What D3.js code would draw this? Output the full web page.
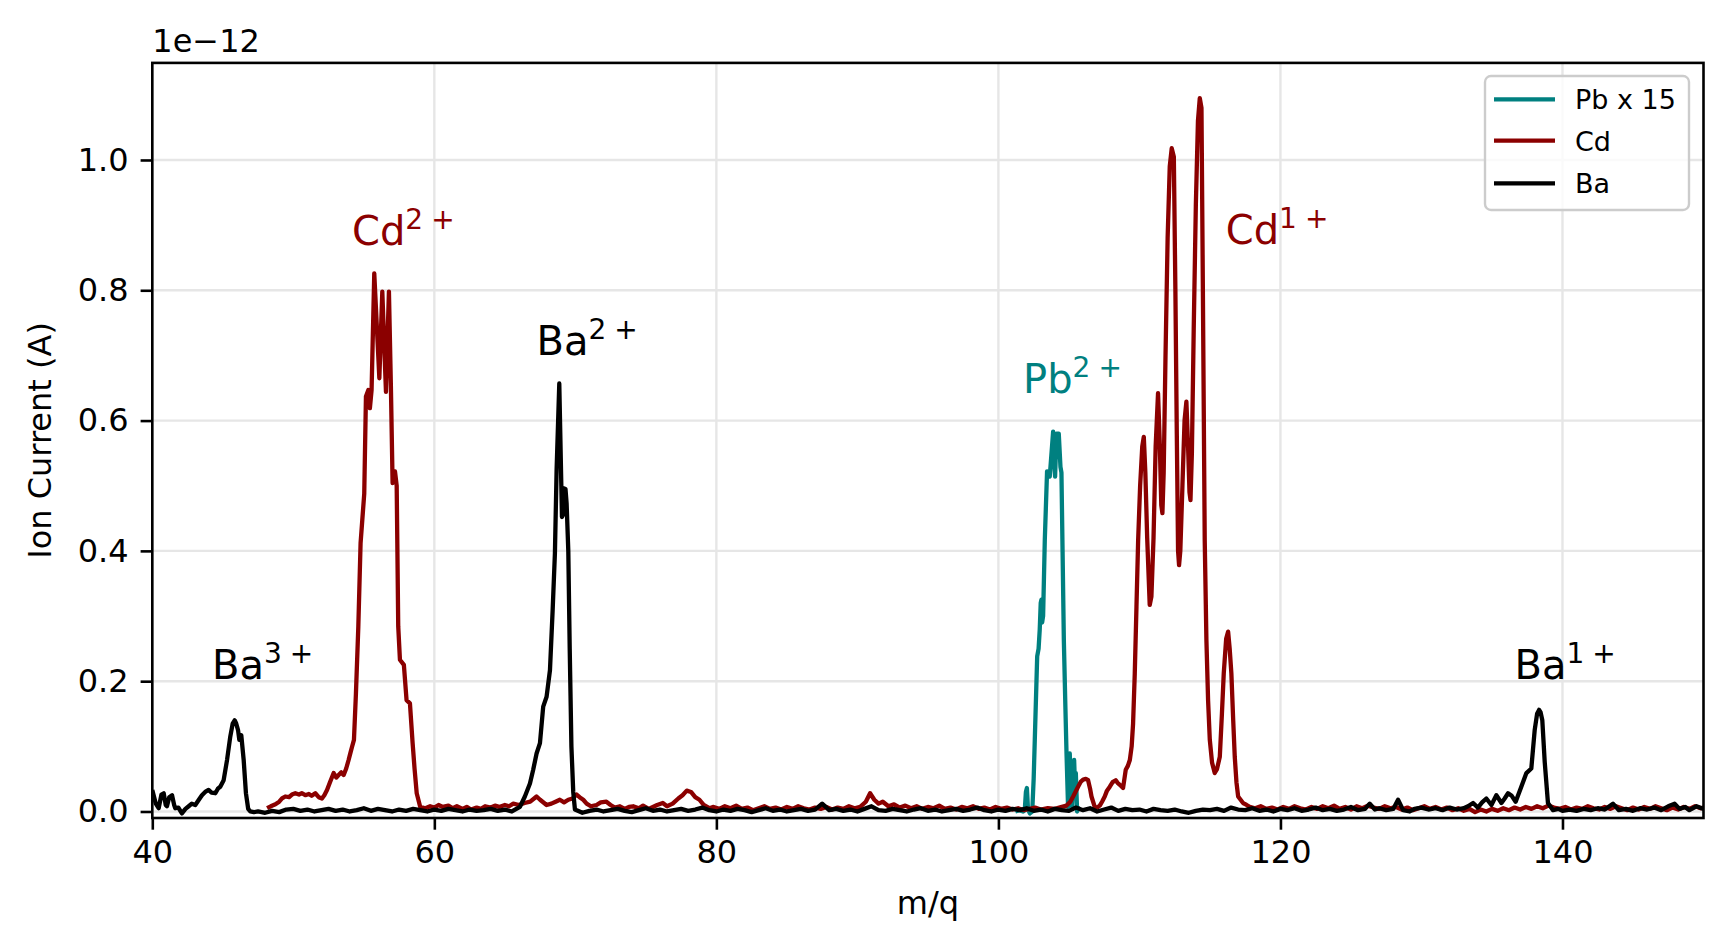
<!DOCTYPE html>
<html><head><meta charset="utf-8">
<script src="https://cdn.jsdelivr.net/npm/d3@7"></script>
<style>body{margin:0;background:#fff}svg{display:block}text{font-family:"DejaVu Sans",sans-serif}</style>
</head><body><svg id="c" width="1731" height="948"></svg>
<script>
// ---- data (m/q, ion current in units of 1e-12 A) ----
const seriesNames = ["Pb x 15", "Cd", "Ba"];
const seriesColors = ["#008080", "#8b0000", "#000000"];
const xTicks = [40, 60, 80, 100, 120, 140];
const yTicks = [0.0, 0.2, 0.4, 0.6, 0.8, 1.0];

const pbPoints = [[101.2,0.000],[101.5,0.002],[101.75,0.000],[101.87,0.002],[101.95,0.030],[102.02,0.036],[102.1,0.003],[102.23,-0.003],[102.4,0.000],[102.5,0.050],[102.58,0.110],[102.75,0.238],[102.85,0.250],[102.93,0.279],[103.0,0.320],[103.05,0.325],[103.1,0.290],[103.17,0.300],[103.29,0.417],[103.45,0.522],[103.64,0.514],[103.8,0.560],[103.88,0.583],[103.95,0.540],[104.02,0.514],[104.12,0.580],[104.28,0.580],[104.4,0.529],[104.47,0.520],[104.55,0.400],[104.64,0.263],[104.75,0.160],[104.83,0.089],[104.94,0.007],[105.06,0.089],[105.15,0.030],[105.23,0.007],[105.3,0.050],[105.37,0.079],[105.43,0.040],[105.49,0.059],[105.58,0.000],[105.68,0.005],[105.77,0.002]];

const cdPoints = [[48.14,0.005],[48.4,0.008],[48.73,0.011],[49.0,0.015],[49.2,0.020],[49.43,0.023],[49.7,0.022],[49.9,0.026],[50.14,0.028],[50.4,0.026],[50.6,0.028],[50.85,0.025],[51.1,0.027],[51.3,0.024],[51.56,0.028],[51.8,0.022],[52.03,0.020],[52.2,0.025],[52.39,0.033],[52.6,0.045],[52.86,0.059],[53.05,0.052],[53.21,0.056],[53.4,0.060],[53.57,0.056],[53.75,0.066],[53.92,0.079],[54.05,0.090],[54.16,0.099],[54.3,0.110],[54.44,0.181],[54.61,0.284],[54.77,0.412],[54.89,0.447],[55.03,0.488],[55.15,0.637],[55.32,0.647],[55.43,0.619],[55.55,0.647],[55.74,0.826],[56.1,0.665],[56.31,0.798],[56.57,0.644],[56.78,0.798],[56.92,0.652],[57.04,0.504],[57.21,0.522],[57.33,0.500],[57.44,0.284],[57.56,0.233],[57.84,0.225],[58.03,0.171],[58.27,0.166],[58.46,0.105],[58.6,0.065],[58.75,0.028],[59.0,0.007],[59.36,0.005],[59.7,0.008],[60.0,0.006],[60.3,0.010],[60.6,0.007],[61.0,0.009],[61.3,0.005],[61.6,0.008],[62.0,0.004],[62.3,0.007],[62.6,0.003],[63.0,0.006],[63.3,0.004],[63.6,0.008],[64.0,0.006],[64.3,0.009],[64.6,0.007],[65.0,0.010],[65.3,0.008],[65.6,0.012],[66.0,0.010],[66.4,0.013],[66.8,0.015],[67.25,0.023],[67.5,0.018],[67.96,0.010],[68.3,0.012],[68.6,0.015],[68.9,0.018],[69.2,0.014],[69.5,0.018],[69.8,0.020],[70.09,0.026],[70.3,0.022],[70.56,0.018],[70.8,0.012],[71.1,0.008],[71.5,0.010],[71.8,0.014],[72.2,0.015],[72.5,0.010],[72.8,0.006],[73.16,0.008],[73.5,0.004],[73.8,0.007],[74.1,0.008],[74.5,0.005],[74.8,0.009],[75.2,0.004],[75.5,0.007],[75.8,0.010],[76.2,0.013],[76.5,0.008],[76.9,0.012],[77.3,0.020],[77.6,0.025],[77.9,0.032],[78.2,0.030],[78.5,0.022],[78.8,0.018],[79.1,0.010],[79.5,0.005],[79.8,0.007],[80.2,0.004],[80.6,0.008],[81.0,0.005],[81.4,0.009],[81.8,0.004],[82.2,0.006],[82.6,0.002],[83.0,0.005],[83.4,0.008],[83.8,0.004],[84.2,0.006],[84.6,0.003],[85.0,0.007],[85.4,0.004],[85.8,0.008],[86.2,0.005],[86.6,0.003],[87.0,0.006],[87.4,0.004],[87.8,0.007],[88.2,0.003],[88.6,0.006],[89.0,0.004],[89.4,0.008],[89.8,0.005],[90.2,0.007],[90.6,0.015],[90.9,0.028],[91.2,0.018],[91.5,0.012],[91.8,0.015],[92.2,0.008],[92.6,0.011],[93.0,0.006],[93.4,0.009],[93.8,0.005],[94.2,0.008],[94.6,0.004],[95.0,0.007],[95.4,0.005],[95.8,0.009],[96.2,0.004],[96.6,0.006],[97.0,0.003],[97.4,0.007],[97.8,0.005],[98.2,0.008],[98.6,0.004],[99.0,0.006],[99.4,0.003],[99.8,0.007],[100.2,0.004],[100.6,0.006],[101.0,0.003],[101.4,0.005],[101.8,0.002],[102.2,0.004],[102.6,0.006],[103.0,0.003],[103.5,0.005],[104.0,0.004],[104.5,0.007],[104.83,0.009],[105.1,0.015],[105.3,0.023],[105.65,0.038],[105.85,0.046],[106.01,0.049],[106.2,0.050],[106.36,0.048],[106.5,0.035],[106.6,0.023],[106.83,0.007],[107.0,0.006],[107.19,0.009],[107.35,0.015],[107.54,0.023],[107.7,0.032],[107.9,0.038],[108.1,0.045],[108.32,0.048],[108.45,0.044],[108.61,0.041],[108.84,0.036],[109.03,0.064],[109.18,0.070],[109.32,0.079],[109.45,0.100],[109.55,0.135],[109.67,0.212],[109.79,0.314],[109.91,0.417],[110.05,0.500],[110.2,0.560],[110.31,0.575],[110.42,0.520],[110.55,0.420],[110.73,0.317],[110.85,0.330],[111.0,0.420],[111.15,0.560],[111.32,0.642],[111.45,0.560],[111.55,0.470],[111.63,0.458],[111.72,0.520],[111.85,0.700],[112.0,0.880],[112.15,0.990],[112.29,1.018],[112.44,1.005],[112.55,0.800],[112.65,0.580],[112.74,0.400],[112.81,0.378],[112.9,0.400],[113.05,0.500],[113.2,0.600],[113.33,0.629],[113.45,0.560],[113.55,0.490],[113.62,0.478],[113.72,0.550],[113.85,0.740],[114.0,0.930],[114.15,1.060],[114.28,1.095],[114.4,1.080],[114.5,0.800],[114.63,0.417],[114.75,0.263],[114.87,0.170],[114.99,0.110],[115.15,0.075],[115.34,0.059],[115.5,0.065],[115.7,0.084],[115.85,0.150],[115.98,0.212],[116.15,0.265],[116.29,0.276],[116.4,0.250],[116.52,0.212],[116.65,0.140],[116.76,0.084],[116.88,0.045],[117.0,0.023],[117.35,0.013],[117.6,0.010],[117.82,0.007],[118.2,0.005],[118.6,0.008],[119.0,0.004],[119.4,0.006],[119.8,0.003],[120.2,0.007],[120.6,0.004],[121.0,0.008],[121.4,0.005],[121.8,0.003],[122.2,0.007],[122.6,0.004],[123.0,0.008],[123.4,0.005],[123.8,0.009],[124.2,0.004],[124.6,0.007],[125.0,0.003],[125.4,0.008],[125.8,0.005],[126.2,0.009],[126.6,0.006],[127.0,0.004],[127.4,0.008],[127.8,0.005],[128.2,0.007],[128.6,0.003],[129.0,0.006],[129.4,0.002],[129.8,0.005],[130.2,0.008],[130.6,0.004],[131.0,0.007],[131.4,0.003],[131.8,0.006],[132.2,0.002],[132.6,0.005],[133.0,0.001],[133.4,0.004],[133.8,-0.001],[134.2,0.003],[134.6,0.000],[135.0,0.004],[135.4,0.001],[135.8,0.005],[136.2,0.002],[136.6,0.006],[137.0,0.003],[137.4,0.007],[137.8,0.004],[138.2,0.008],[138.6,0.005],[139.0,0.009],[139.4,0.006],[139.8,0.004],[140.2,0.007],[140.6,0.003],[141.0,0.006],[141.4,0.004],[141.8,0.008],[142.2,0.005],[142.6,0.003],[143.0,0.007],[143.4,0.004],[143.8,0.008],[144.2,0.005],[144.6,0.002],[145.0,0.006],[145.4,0.003],[145.8,0.007],[146.2,0.004],[146.6,0.008],[147.0,0.005],[147.4,0.002],[147.8,0.006],[148.2,0.003],[148.6,0.007],[149.0,0.004],[149.4,0.008],[149.8,0.005],[150.0,0.006]];

const baPoints = [[40.0,0.033],[40.25,0.012],[40.45,0.005],[40.65,0.026],[40.81,0.028],[40.95,0.010],[41.04,0.008],[41.2,0.022],[41.4,0.025],[41.55,0.010],[41.63,0.005],[41.85,0.006],[42.1,-0.003],[42.35,0.004],[42.58,0.008],[42.8,0.012],[43.05,0.010],[43.3,0.018],[43.52,0.025],[43.75,0.030],[43.99,0.033],[44.2,0.029],[44.47,0.028],[44.65,0.035],[44.82,0.038],[45.06,0.048],[45.3,0.079],[45.53,0.115],[45.7,0.135],[45.84,0.140],[45.95,0.135],[46.08,0.125],[46.17,0.110],[46.31,0.117],[46.48,0.079],[46.64,0.028],[46.8,0.004],[46.95,0.000],[47.2,-0.001],[47.5,0.000],[48.0,-0.002],[48.5,0.001],[49.0,-0.001],[49.5,0.003],[50.0,0.004],[50.5,0.001],[51.0,0.003],[51.5,0.000],[52.0,0.002],[52.5,0.004],[53.0,0.001],[53.5,0.003],[54.0,0.000],[54.5,0.002],[55.0,0.005],[55.5,0.001],[56.0,0.004],[56.5,0.002],[57.0,0.000],[57.5,0.003],[58.0,0.001],[58.5,0.004],[59.0,0.002],[59.5,0.000],[60.0,0.003],[60.5,0.001],[61.0,0.004],[61.5,0.002],[62.0,0.000],[62.5,0.003],[63.0,0.001],[63.5,0.002],[64.0,0.004],[64.5,0.001],[65.0,0.003],[65.5,0.000],[66.07,0.007],[66.42,0.023],[66.78,0.043],[67.01,0.064],[67.25,0.089],[67.49,0.105],[67.72,0.161],[67.96,0.176],[68.2,0.217],[68.39,0.309],[68.55,0.396],[68.67,0.524],[68.86,0.657],[69.05,0.452],[69.12,0.455],[69.17,0.496],[69.3,0.495],[69.38,0.473],[69.5,0.400],[69.6,0.250],[69.72,0.100],[69.85,0.030],[69.97,0.003],[70.5,-0.002],[71.0,0.001],[71.5,0.003],[72.0,0.000],[72.5,0.002],[73.0,0.004],[73.5,0.001],[74.0,-0.001],[74.5,0.002],[75.0,0.005],[75.5,0.001],[76.0,0.003],[76.5,0.000],[77.0,0.002],[77.5,0.004],[78.0,0.001],[78.5,0.003],[79.0,0.006],[79.5,0.002],[80.0,0.000],[80.5,0.003],[81.0,0.001],[81.5,0.004],[82.0,0.002],[82.5,-0.001],[83.0,0.002],[83.5,0.005],[84.0,0.001],[84.5,0.003],[85.0,0.000],[85.5,0.002],[86.0,0.004],[86.5,0.001],[87.0,0.003],[87.5,0.012],[88.0,0.002],[88.5,0.004],[89.0,0.001],[89.5,0.003],[90.0,0.000],[90.5,0.004],[91.0,0.008],[91.5,0.002],[92.0,0.001],[92.5,0.004],[93.0,0.002],[93.5,0.000],[94.0,0.003],[94.5,0.005],[95.0,0.001],[95.5,0.003],[96.0,0.000],[96.5,0.002],[97.0,0.004],[97.5,0.001],[98.0,0.003],[98.5,0.006],[99.0,0.002],[99.5,0.000],[100.0,0.003],[100.5,0.001],[101.0,0.004],[101.5,0.002],[102.0,0.005],[102.5,0.001],[103.0,0.003],[103.5,0.000],[104.0,0.004],[104.5,0.002],[105.0,0.001],[105.5,0.006],[106.0,0.002],[106.5,0.005],[107.0,0.000],[107.5,0.003],[108.0,0.006],[108.5,0.001],[109.0,0.004],[109.5,0.002],[110.0,0.003],[110.5,0.000],[111.0,0.004],[111.5,0.002],[112.0,0.001],[112.5,0.003],[113.0,0.000],[113.5,-0.002],[114.0,0.001],[114.5,0.003],[115.0,0.002],[115.5,0.004],[116.0,0.001],[116.5,0.006],[117.0,0.003],[117.5,0.002],[118.0,0.005],[118.5,0.001],[119.0,0.003],[119.5,0.000],[120.0,0.004],[120.5,0.002],[121.0,0.005],[121.5,0.001],[122.0,0.003],[122.5,0.006],[123.0,0.002],[123.5,0.004],[124.0,0.001],[124.5,0.003],[125.0,0.007],[125.5,0.002],[126.0,0.004],[126.33,0.012],[126.7,0.003],[127.0,0.005],[127.5,0.002],[128.0,0.004],[128.34,0.018],[128.7,0.002],[129.17,0.000],[129.5,0.004],[130.0,0.006],[130.5,0.003],[131.0,0.005],[131.5,0.002],[132.0,0.006],[132.5,0.003],[133.0,0.005],[133.3,0.008],[133.66,0.013],[134.0,0.006],[134.3,0.014],[134.6,0.020],[134.96,0.010],[135.31,0.025],[135.67,0.013],[135.9,0.020],[136.14,0.028],[136.4,0.024],[136.68,0.015],[137.08,0.038],[137.44,0.059],[137.79,0.066],[138.03,0.125],[138.2,0.150],[138.34,0.156],[138.45,0.152],[138.57,0.140],[138.74,0.076],[138.97,0.013],[139.33,0.002],[139.7,0.004],[140.0,0.001],[140.5,0.003],[141.0,0.001],[141.5,0.004],[142.0,0.002],[142.5,0.005],[143.0,0.003],[143.58,0.012],[144.0,0.002],[144.5,0.004],[145.0,0.001],[145.5,0.005],[146.0,0.003],[146.5,0.006],[147.0,0.002],[147.5,0.008],[147.95,0.012],[148.3,0.004],[148.7,0.007],[149.0,0.002],[149.5,0.008],[150.0,0.004]];

// annotations: [label, superscript, m/q, value, colour index]
const annotations = [
  ["Ba", "3", 44.23, 0.203, 2],
  ["Cd", "2", 54.16, 0.870, 1],
  ["Ba", "2", 67.25, 0.700, 2],
  ["Pb", "2", 101.75, 0.642, 0],
  ["Cd", "1", 116.12, 0.871, 1],
  ["Ba", "1", 136.6, 0.203, 2]
];

// ---- layout ----
const L = 152.3, R = 1703.5, T = 62.9, B = 818;
const svg = d3.select("#c");
svg.append("rect").attr("width",1731).attr("height",948).attr("fill","#fff");
const x = d3.scaleLinear().domain([40,150]).range([L,R]);
const y = d3.scaleLinear().domain([-0.01,1.149]).range([B,T]);

// grid
const grid = svg.append("g");
grid.selectAll("line.gx").data(xTicks).enter().append("line")
  .attr("x1",d=>x(d)).attr("x2",d=>x(d)).attr("y1",T).attr("y2",B)
  .attr("stroke","#e6e6e6").attr("stroke-width",2.4);
grid.selectAll("line.gy").data(yTicks).enter().append("line")
  .attr("x1",L).attr("x2",R).attr("y1",d=>y(d)).attr("y2",d=>y(d))
  .attr("stroke","#e6e6e6").attr("stroke-width",2.4);

// lines
svg.append("defs").append("clipPath").attr("id","clip").append("rect")
  .attr("x",L).attr("y",T).attr("width",R-L).attr("height",B-T);
const line = d3.line().x(d=>x(d[0])).y(d=>y(d[1]));
const allSeries = [pbPoints, cdPoints, baPoints];
const plot = svg.append("g").attr("clip-path","url(#clip)");
allSeries.forEach((pts,i)=>{
  plot.append("path").datum(pts).attr("d",line).attr("fill","none")
    .attr("stroke",seriesColors[i]).attr("stroke-width",4.3)
    .attr("stroke-linejoin","round").attr("stroke-linecap","butt");
});

// annotations
annotations.forEach(a=>{
  const t = svg.append("text").attr("x",x(a[2])).attr("y",y(a[3]))
    .attr("font-size",40).attr("fill",seriesColors[a[4]]);
  t.append("tspan").text(a[0]);
  t.append("tspan").attr("font-size",28).attr("dy",-16).text(a[1]);
  t.append("tspan").attr("font-size",28).attr("dx",8).text("+");
});

// axes
const fs = 32;
const xAxis = svg.append("g").attr("transform",`translate(0,${B})`)
  .call(d3.axisBottom(x).tickValues(xTicks).tickFormat(d3.format("d")).tickSize(11.7).tickPadding(11));
const yAxis = svg.append("g").attr("transform",`translate(${L},0)`)
  .call(d3.axisLeft(y).tickValues(yTicks).tickFormat(d3.format(".1f")).tickSize(11.7).tickPadding(12));
[xAxis,yAxis].forEach(g=>{
  g.select(".domain").remove();
  g.selectAll(".tick line").attr("stroke","#000").attr("stroke-width",2.6);
  g.selectAll(".tick text").attr("font-size",fs).attr("fill","#000")
   .attr("font-family","DejaVu Sans");
});

// spines
svg.append("rect").attr("x",L).attr("y",T).attr("width",R-L).attr("height",B-T)
  .attr("fill","none").attr("stroke","#000").attr("stroke-width",2.6);

// labels
svg.append("text").attr("x",(L+R)/2).attr("y",914).attr("text-anchor","middle")
  .attr("font-size",fs).text("m/q");
svg.append("text").attr("transform",`translate(51,${(T+B)/2}) rotate(-90)`)
  .attr("text-anchor","middle").attr("font-size",fs).text("Ion Current (A)");
svg.append("text").attr("x",L).attr("y",52).attr("font-size",fs).text("1e\u221212");

// legend
const lg = svg.append("g");
lg.append("rect").attr("x",1485).attr("y",76).attr("width",204).attr("height",134)
  .attr("rx",6).attr("fill","#fff").attr("fill-opacity",0.8)
  .attr("stroke","#cccccc").attr("stroke-width",2.4);
const rowY = [99.3, 140.7, 183.3];
seriesNames.forEach((n,i)=>{
  lg.append("line").attr("x1",1494).attr("x2",1555).attr("y1",rowY[i]).attr("y2",rowY[i])
    .attr("stroke",seriesColors[i]).attr("stroke-width",4.3);
  lg.append("text").attr("x",1575).attr("y",rowY[i]+10).attr("font-size",27).text(n);
});
</script></body></html>
